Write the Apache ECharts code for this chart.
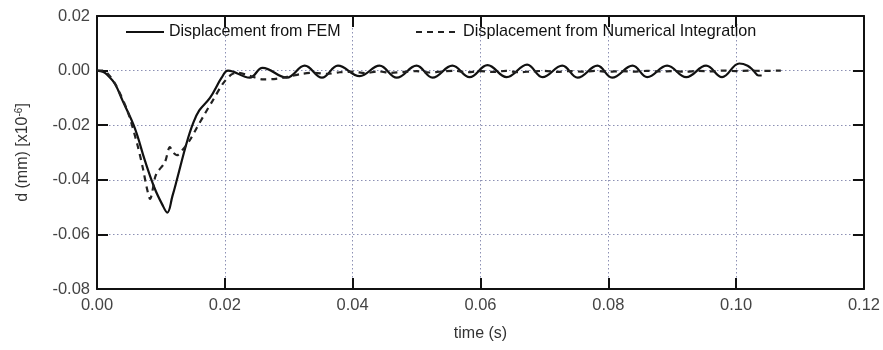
<!DOCTYPE html>
<html>
<head>
<meta charset="utf-8">
<script src="https://cdn.jsdelivr.net/npm/echarts@6/dist/echarts.min.js"></script>
<style>html,body{margin:0;padding:0;background:#fff}#c{width:883px;height:350px}</style>
</head>
<body>
<div id="c"></div>
<script>
var xTicks = [0, 0.02, 0.04, 0.06, 0.08, 0.10, 0.12];
var yTicks = [-0.08, -0.06, -0.04, -0.02, 0.00, 0.02];

var femT = [0, 0.001, 0.0017, 0.0028, 0.004, 0.0059, 0.0075, 0.009, 0.0102, 0.011, 0.0118, 0.0125, 0.014, 0.015, 0.016, 0.0177, 0.0195, 0.0205,
  0.0239, 0.0259, 0.0297, 0.0325, 0.0352, 0.0377, 0.0411, 0.0442, 0.0469, 0.0500, 0.0525, 0.0556, 0.0583, 0.0611, 0.0641, 0.0673,
  0.0697, 0.0728, 0.0752, 0.0783, 0.0806, 0.0838, 0.0861, 0.0892, 0.0922, 0.0953, 0.0978, 0.1005, 0.1018, 0.1027, 0.1035, 0.1040];
var femD = [0, -0.0005, -0.0018, -0.0048, -0.011, -0.021, -0.033, -0.043, -0.049, -0.052, -0.046, -0.040, -0.0267, -0.0195, -0.0146, -0.0099, -0.0026, 0.0,
  -0.0026, 0.0010, -0.0026, 0.0018, -0.0026, 0.0018, -0.0020, 0.0018, -0.0026, 0.0018, -0.0026, 0.0018, -0.0024, 0.0020, -0.0024, 0.0022,
  -0.0024, 0.0018, -0.0026, 0.0018, -0.0026, 0.0018, -0.0024, 0.0018, -0.0024, 0.0018, -0.0024, 0.0026, 0.0018, 0.0, -0.0018, -0.0018];

var numT = [0, 0.001, 0.002, 0.003, 0.0048, 0.0063, 0.0072, 0.0078, 0.0083, 0.0091, 0.0095, 0.0106, 0.0114, 0.0119, 0.0125, 0.0134, 0.0145, 0.0156, 0.0169, 0.0181, 0.0197, 0.021, 0.022,
  0.024, 0.026, 0.028, 0.030, 0.032, 0.034, 0.036, 0.038, 0.040, 0.042, 0.044, 0.046, 0.048, 0.050, 0.052, 0.054, 0.056, 0.058, 0.060,
  0.062, 0.064, 0.066, 0.068, 0.070, 0.072, 0.074, 0.076, 0.078, 0.080, 0.082, 0.084, 0.086, 0.088, 0.090, 0.092, 0.094, 0.096, 0.098, 0.100, 0.102, 0.104, 0.107];
var numD = [0, 0, -0.002, -0.0055, -0.015, -0.027, -0.036, -0.043, -0.047, -0.039, -0.037, -0.0337, -0.028, -0.030, -0.031, -0.029, -0.0256, -0.021, -0.0157, -0.011, -0.0048, -0.0015, -0.0008,
  -0.002, -0.0032, -0.003, -0.0022, -0.0012, -0.0008, -0.0012, -0.0006, -0.0004, -0.0009, -0.0003, -0.0008, -0.0005, -0.0002, -0.0007, -0.0003, -0.0001, -0.0006, -0.0002,
  -0.0005, -0.0001, -0.0006, -0.0003, -0.0001, -0.0005, -0.0002, -0.0004, -0.0001, -0.0004, -0.0002, -0.0004, -0.0001, -0.0003, -0.0002, -0.0004, -0.0001, -0.0003, 0.0, -0.0002, 0.0, -0.0001, 0.0];

function pairs(t, d) { return t.map(function (v, i) { return [v, d[i]]; }); }

var chart = echarts.init(document.getElementById('c'), null, {renderer: 'canvas'});
var F = 'Liberation Sans, Arial, sans-serif';
var axisCommon = {
  axisLine: {show: true, onZero: false, lineStyle: {color: '#111', width: 2}},
  axisTick: {show: true, inside: true, length: 11, lineStyle: {color: '#111', width: 2}},
  splitLine: {show: false}
};
var grid = {color: '#8c90b4', type: [1.5, 2.5], width: 1};
chart.setOption({
  animation: false,
  grid: {left: 97, right: 18, top: 16, bottom: 61, containLabel: false},
  legend: [
    {data: ['Displacement from FEM'], left: 120, top: 19, itemWidth: 38, itemHeight: 14, itemGap: 6,
      itemStyle: {opacity: 0}, textStyle: {fontFamily: F, fontSize: 16, color: '#111'}},
    {data: ['Displacement from Numerical Integration'], left: 410, top: 19, itemWidth: 42, itemHeight: 14,
      itemStyle: {opacity: 0}, textStyle: {fontFamily: F, fontSize: 16.2, color: '#111'}}
  ],
  xAxis: [
    Object.assign({}, axisCommon, {
      type: 'value', min: 0, max: 0.12, interval: 0.02, position: 'bottom',
      name: 'time (s)', nameLocation: 'middle', nameGap: 37,
      nameTextStyle: {fontFamily: F, fontSize: 16, color: '#333'},
      axisLabel: {fontFamily: F, fontSize: 16.5, color: '#444', margin: 8, formatter: function (v) { return v.toFixed(2); }},
      splitLine: {show: true, lineStyle: grid}
    }),
    Object.assign({}, axisCommon, {
      type: 'value', min: 0, max: 0.12, interval: 0.02, position: 'top',
      axisLabel: {show: false}
    })
  ],
  yAxis: [
    Object.assign({}, axisCommon, {
      type: 'value', min: -0.08, max: 0.02, interval: 0.02, position: 'left',
      name: '{a|d (mm) [x10}{b|-6}{a|]}', nameLocation: 'middle', nameGap: 65, nameRotate: 90,
      nameTextStyle: {rich: {a: {fontFamily: F, fontSize: 16, color: '#333'}, b: {fontFamily: F, fontSize: 10, color: '#333', verticalAlign: 'top', padding: [0, 0, 8, 0]}}},
      axisLabel: {fontFamily: F, fontSize: 16.5, color: '#444', margin: 7, formatter: function (v) { return v.toFixed(2); }},
      splitLine: {show: true, lineStyle: grid}
    }),
    Object.assign({}, axisCommon, {
      type: 'value', min: -0.08, max: 0.02, interval: 0.02, position: 'right',
      axisLabel: {show: false}
    })
  ],
  series: [
    {name: 'Displacement from FEM', type: 'line', data: pairs(femT, femD), showSymbol: false, symbol: 'none', smooth: 0.4,
      lineStyle: {color: '#111', width: 2.2, type: 'solid'}, itemStyle: {color: '#111'}},
    {name: 'Displacement from Numerical Integration', type: 'line', data: pairs(numT, numD), showSymbol: false, symbol: 'none', smooth: 0.3,
      lineStyle: {color: '#222', width: 2.2, type: [6, 5]}, itemStyle: {color: '#222'}}
  ]
});
</script>
</body>
</html>
